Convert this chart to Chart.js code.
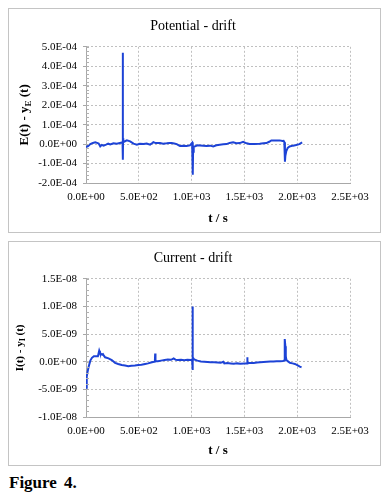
<!DOCTYPE html>
<html>
<head>
<meta charset="utf-8">
<script src="https://cdn.jsdelivr.net/npm/chart.js@4"></script>
<style>
  body { margin: 0; background: #fff; width: 389px; height: 494px; position: relative; overflow: hidden; }
  .box { position: absolute; left: 8px; width: 371px; height: 223px; border: 1px solid #c4c4c4; }
  #box1 { top: 8px; }
  #box2 { top: 241px; }
  .fig { position: absolute; left: 9px; top: 473px; font: bold 17px "Liberation Serif", serif; word-spacing: 3px; }
</style>
</head>
<body>
<div class="box" id="box1"><canvas id="potential"></canvas></div>
<div class="box" id="box2"><canvas id="current"></canvas></div>
<div class="fig">Figure 4.</div>
<script>
// potential drift, E(t) - yE(t)  (values in units of 1e-5)
const timeE = [0, 20, 41, 65, 88, 105, 120, 135, 150, 167, 190, 210, 230, 260, 292, 320, 340, 346, 348, 349, 350, 351, 353, 360, 387, 418, 450, 481, 510, 544, 575, 607, 625, 638, 660, 701, 730, 764, 790, 811, 835, 859, 875, 890, 920, 953, 984, 1005, 1010, 1012, 1014, 1020, 1032, 1055, 1079, 1110, 1142, 1175, 1205, 1235, 1267, 1300, 1330, 1360, 1393, 1425, 1456, 1488, 1520, 1550, 1590, 1645, 1680, 1708, 1735, 1755, 1790, 1834, 1860, 1871, 1878, 1884, 1888, 1896, 1910, 1928, 1960, 1991, 2020, 2047];
const driftE = [-1.5, -1.0, 0, 0.6, 0.9, 0.6, 0.3, -1.2, -0.4, -0.8, -0.3, 0.2, -0.2, 0.4, 0.2, 0.6, 0.8, 1.2, 6.5, 47, -8, 3, 1.5, 1.2, 1.9, 1.4, 0.2, -0.3, 0.2, 0, 0.3, -0.3, 0.4, 1.0, 0.5, 0.5, 0.2, 0.4, 0.6, 0.5, 0.3, 0, -0.5, -1.0, -0.9, -1.0, -0.7, 0.6, 0.9, -15.8, -4, -1.5, -1.2, -0.6, -0.7, -0.8, -1.0, -0.8, -1.2, -0.6, -0.3, -0.1, 0, 0.6, 0.9, 0.4, 0.5, 1.2, 0.4, 0, 0.1, 0.2, 0.4, 0.5, 1.2, 1.9, 1.9, 1.9, 1.6, 1.7, 1.0, -9, -6, -3.8, -2.0, -1.2, -0.8, -0.5, 0, 0.9];

// current drift, I(t) - yI(t)  (values in units of 1e-9)
const timeI = [0, 5, 9, 15, 25, 41, 56, 75, 88, 113, 120, 125, 132, 138, 150, 160, 166, 181, 213, 244, 275, 305, 338, 370, 400, 430, 463, 495, 525, 560, 588, 615, 634, 652, 655, 658, 681, 710, 744, 775, 806, 830, 850, 869, 900, 931, 960, 994, 1005, 1008, 1010, 1013, 1025, 1055, 1088, 1120, 1150, 1180, 1213, 1245, 1275, 1300, 1310, 1338, 1370, 1400, 1430, 1463, 1500, 1525, 1527, 1530, 1560, 1588, 1620, 1650, 1680, 1713, 1745, 1775, 1805, 1838, 1865, 1875, 1880, 1884, 1888, 1892, 1898, 1910, 1931, 1955, 1978, 2000, 2025, 2041];
const driftI = [-4.7, -3.6, -2.7, -1.8, -0.9, 0.2, 0.7, 1.0, 1.0, 1.0, 1.6, 2.0, 1.6, 1.5, 1.3, 1.4, 1.2, 0.8, 0.6, 0.3, -0.2, -0.4, -0.6, -0.7, -0.8, -0.75, -0.7, -0.6, -0.55, -0.4, -0.3, -0.15, -0.05, 0, 1.5, 0.1, 0.1, 0.2, 0.3, 0.4, 0.35, 0.6, 0.35, 0.3, 0.35, 0.25, 0.35, 0.3, 0.4, 10.0, -1.5, 0.8, 0.4, 0.2, 0.05, 0, -0.05, -0.1, -0.1, -0.15, -0.2, 0, -0.3, -0.25, -0.3, -0.35, -0.3, -0.35, -0.3, -0.3, 0.8, -0.2, -0.25, -0.25, -0.15, -0.1, -0.05, 0, 0.05, 0.05, 0.1, 0.1, 0.15, 0.2, 2.5, 4.1, 2.8, 1.0, 0.3, 0.1, -0.2, -0.3, -0.4, -0.6, -0.9, -1.0];

const xTicks = [0, 500, 1000, 1500, 2000, 2500];

const serif = '"Liberation Serif", "Times New Roman", serif';

function sci(v) {
  if (Math.abs(v) < 1e-15) v = 0;
  const [m, e] = v.toExponential(1).split('e');
  const n = parseInt(e, 10);
  return m + 'E' + (n < 0 ? '-' : '+') + String(Math.abs(n)).padStart(2, '0');
}

// y title with a subscript, plus minor ticks on the y axis
const extras = {
  id: 'extras',
  afterDraw(chart, args, opts) {
    const ctx = chart.ctx;
    const y = chart.scales.y;
    const area = chart.chartArea;
    ctx.save();
    ctx.strokeStyle = '#b0b0b0';
    ctx.lineWidth = 1;
    ctx.beginPath();
    for (let v = y.min; v <= y.max + opts.minor / 2; v += opts.minor) {
      const py = Math.round(y.getPixelForValue(v)) + 0.5;
      ctx.moveTo(area.left, py);
      ctx.lineTo(area.left + 3, py);
    }
    ctx.stroke();

    ctx.translate(opts.titleX, (area.top + area.bottom) / 2);
    ctx.rotate(-Math.PI / 2);
    ctx.fillStyle = '#000';
    ctx.textBaseline = 'middle';
    ctx.textAlign = 'left';
    const big = 'bold ' + opts.size + 'px ' + serif;
    const small = 'bold ' + Math.round(opts.size * 0.7) + 'px ' + serif;
    let total = 0;
    opts.parts.forEach(p => { ctx.font = p.sub ? small : big; total += ctx.measureText(p.t).width; });
    let x = -total / 2;
    opts.parts.forEach(p => {
      ctx.font = p.sub ? small : big;
      ctx.fillText(p.t, x, p.sub ? opts.size * 0.25 : 0);
      x += ctx.measureText(p.t).width;
    });
    ctx.restore();
  }
};

function makeChart(id, title, times, values, unit, yMin, yMax, yStep, yTitle, fit) {
  const points = times.map((t, i) => ({ x: t, y: values[i] * unit }));
  return new Chart(document.getElementById(id), {
    type: 'line',
    data: {
      datasets: [{
        data: points,
        borderColor: '#1d43d6',
        borderWidth: 2,
        pointRadius: 0,
        tension: 0,
      }],
    },
    plugins: [extras],
    options: {
      responsive: true,
      maintainAspectRatio: false,
      animation: false,
      layout: { padding: { left: 27, right: 30, top: 0, bottom: 0 } },
      plugins: {
        legend: { display: false },
        tooltip: { enabled: false },
        title: {
          display: true,
          text: title,
          color: '#000',
          font: { family: serif, size: 14, weight: 'normal' },
          padding: fit.titlePad,
        },
        extras: yTitle,
      },
      scales: {
        x: {
          type: 'linear',
          min: 0,
          max: 2500,
          afterBuildTicks: (s) => { s.ticks = xTicks.map(v => ({ value: v })); },
          afterFit: (s) => { s.height = fit.xHeight; },
          ticks: {
            color: '#000',
            font: { family: serif, size: 11 },
            padding: 8,
            maxRotation: 0,
            autoSkip: false,
            callback: (v) => sci(v),
          },
          grid: { color: '#c0c0c0', drawTicks: false },
          border: { display: true, color: '#a8a8a8', dash: [2, 2] },
          title: {
            display: true,
            text: 't / s',
            color: '#000',
            font: { family: serif, size: 13, weight: 'bold' },
            padding: { top: 4, bottom: fit.xTitlePad },
          },
        },
        y: {
          min: yMin,
          max: yMax,
          afterFit: (s) => { s.width = 50; },
          ticks: {
            stepSize: yStep,
            color: '#000',
            font: { family: serif, size: 11 },
            padding: 6,
            callback: (v) => sci(v),
          },
          grid: { color: '#c0c0c0', tickLength: 3, tickBorderDash: [], tickColor: '#a8a8a8' },
          border: { display: true, color: '#a8a8a8', dash: [2, 2] },
        },
      },
    },
  });
}

Chart.defaults.scale.grid.borderDash = [2, 2];

const c1 = makeChart('potential', 'Potential - drift', timeE, driftE, 1e-5, -2e-4, 5e-4, 1e-4,
  { titleX: 16, size: 13, minor: 2e-5, parts: [{ t: 'E(t) - y' }, { t: 'E', sub: true }, { t: ' (t)' }] },
  { titlePad: { top: 9, bottom: 12 }, xHeight: 49, xTitlePad: 6 });
const c2 = makeChart('current', 'Current - drift', timeI, driftI, 1e-9, -1e-8, 1.5e-8, 5e-9,
  { titleX: 11, size: 11, minor: 1e-9, parts: [{ t: 'I(t) - y' }, { t: 'I', sub: true }, { t: ' (t)' }] },
  { titlePad: { top: 7.5, bottom: 12.5 }, xHeight: 48, xTitlePad: 7 });
</script>
</body>
</html>
